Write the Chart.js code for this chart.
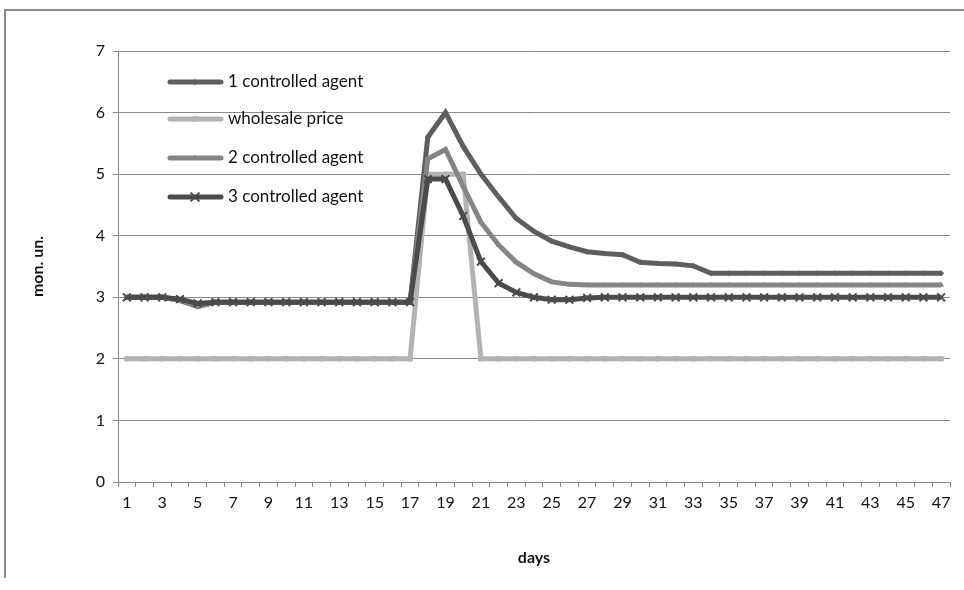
<!DOCTYPE html>
<html>
<head>
<meta charset="utf-8">
<script src="https://cdn.jsdelivr.net/npm/chart.js@4/dist/chart.umd.min.js"></script>
<style>
  html, body { margin: 0; padding: 0; background: #fff; }
  #wrap { position: relative; width: 964px; height: 590px; overflow: hidden; }
  #frame { position: absolute; left: 4px; top: 9px; width: 1000px; height: 569px;
           border-top: 2px solid #8a8a8a; border-left: 2px solid #8a8a8a; box-sizing: border-box; }
  canvas { position: absolute; left: 0; top: 0; }
</style>
</head>
<body>
<div id="wrap">
  <div id="frame"></div>
  <canvas id="chart" width="964" height="590"></canvas>
</div>
<script>
// Days on the category axis
const days = ['1','2','3','4','5','6','7','8','9','10','11','12','13','14','15','16',
  '17','18','19','20','21','22','23','24','25','26','27','28','29','30','31','32',
  '33','34','35','36','37','38','39','40','41','42','43','44','45','46','47'];

// Values (mon. un.)
const agent1 = [3.0, 3.0, 3.0, 2.95, 2.85, 2.92, 2.92, 2.92, 2.92, 2.92, 2.92, 2.92,
  2.92, 2.92, 2.92, 2.92, 2.92, 5.6, 6.0, 5.45, 5.0, 4.63, 4.28, 4.07, 3.91, 3.82,
  3.74, 3.71, 3.69, 3.57, 3.55, 3.54, 3.51, 3.39, 3.39, 3.39, 3.39, 3.39, 3.39,
  3.39, 3.39, 3.39, 3.39, 3.39, 3.39, 3.39, 3.39];
const wholesale = [2, 2, 2, 2, 2, 2, 2, 2, 2, 2, 2, 2, 2, 2, 2, 2, 2, 5.0, 5.0, 5.0,
  2, 2, 2, 2, 2, 2, 2, 2, 2, 2, 2, 2, 2, 2, 2, 2, 2, 2, 2, 2, 2, 2, 2, 2, 2, 2, 2];
const agent2 = [3.0, 3.0, 3.0, 2.95, 2.85, 2.92, 2.92, 2.92, 2.92, 2.92, 2.92, 2.92,
  2.92, 2.92, 2.92, 2.92, 2.92, 5.25, 5.4, 4.8, 4.22, 3.85, 3.57, 3.38, 3.25, 3.21,
  3.2, 3.2, 3.2, 3.2, 3.2, 3.2, 3.2, 3.2, 3.2, 3.2, 3.2, 3.2, 3.2, 3.2, 3.2, 3.2,
  3.2, 3.2, 3.2, 3.2, 3.2];
const agent3 = [3.0, 3.0, 3.0, 2.97, 2.9, 2.92, 2.92, 2.92, 2.92, 2.92, 2.92, 2.92,
  2.92, 2.92, 2.92, 2.92, 2.92, 4.92, 4.92, 4.32, 3.58, 3.23, 3.08, 3.0, 2.96, 2.96,
  2.99, 3.0, 3.0, 3.0, 3.0, 3.0, 3.0, 3.0, 3.0, 3.0, 3.0, 3.0, 3.0, 3.0, 3.0, 3.0,
  3.0, 3.0, 3.0, 3.0, 3.0];

const yTicks = [0, 1, 2, 3, 4, 5, 6, 7];

const FONT = 'Lato, "Open Sans", sans-serif';
const GRID = '#888888';

// Legend drawn inside the plot, like the Excel original
const insideLegend = {
  id: 'insideLegend',
  afterDraw(chart) {
    const ctx = chart.ctx;
    const rows = [82, 119, 158, 197];
    ctx.save();
    chart.data.datasets.forEach((ds, i) => {
      const y = rows[i];
      ctx.strokeStyle = ds.borderColor;
      ctx.lineWidth = ds.borderWidth;
      ctx.lineCap = 'round';
      ctx.beginPath();
      ctx.moveTo(170, y);
      ctx.lineTo(221, y);
      ctx.stroke();
      ctx.fillStyle = ds.pointBackgroundColor;
      ctx.strokeStyle = ds.pointBorderColor;
      ctx.lineWidth = ds.pointBorderWidth;
      Chart.helpers.drawPoint(ctx, {
        pointStyle: ds.pointStyle, radius: ds.pointRadius,
        borderWidth: ds.pointBorderWidth, rotation: 0
      }, 195, y);
      ctx.fillStyle = '#111';
      ctx.font = '17px ' + FONT;
      ctx.textBaseline = 'middle';
      ctx.textAlign = 'left';
      ctx.fillText(ds.label, 228, y);
    });
    ctx.restore();
  }
};

function series(label, data, color, style, radius, order, pbw) {
  return {
    label: label,
    data: data,
    borderColor: color,
    backgroundColor: color,
    borderWidth: 5,
    tension: 0,
    pointStyle: style,
    pointRadius: radius,
    pointBackgroundColor: color,
    pointBorderColor: color,
    pointBorderWidth: pbw,
    pointHoverRadius: radius,
    order: order
  };
}

new Chart(document.getElementById('chart'), {
  type: 'line',
  data: {
    labels: days,
    datasets: [
      series('1 controlled agent', agent1, '#5e5e5e', 'rectRot', 2.5, 4, 1),
      series('wholesale price', wholesale, '#b3b3b3', 'rect', 3, 3, 1),
      series('2 controlled agent', agent2, '#858585', 'triangle', 2.5, 2, 1),
      series('3 controlled agent', agent3, '#4b4b4b', 'crossRot', 5.5, 1, 2)
    ]
  },
  options: {
    responsive: false,
    animation: false,
    layout: { padding: { left: 20, right: 14, top: 51, bottom: 20 } },
    plugins: { legend: { display: false }, tooltip: { enabled: false } },
    scales: {
      x: {
        type: 'category',
        offset: true,
        grid: { display: true, offset: true, drawOnChartArea: false, drawTicks: true,
                tickLength: 5, color: GRID },
        border: { display: true, color: GRID, width: 1 },
        ticks: {
          autoSkip: false, maxRotation: 0, minRotation: 0, padding: 6,
          color: '#111', font: { family: FONT, size: 16 },
          callback: function (v, i) { return i % 2 === 0 ? this.getLabelForValue(v) : ''; }
        },
        title: { display: true, text: 'days', color: '#111',
                 font: { family: FONT, size: 16, weight: 'bold' },
                 padding: { top: 0, bottom: 3 } },
        afterFit(scale) { scale.height = 88; }
      },
      y: {
        min: 0, max: 7,
        afterBuildTicks(scale) { scale.ticks = yTicks.map(v => ({ value: v })); },
        grid: { color: GRID, lineWidth: 1, tickLength: 5 },
        border: { display: true, color: GRID, width: 1 },
        ticks: { padding: 8, color: '#111', font: { family: FONT, size: 16 } },
        title: { display: true, text: 'mon. un.', color: '#111',
                 font: { family: FONT, size: 16, weight: 'bold' },
                 padding: { top: 8, bottom: 0 } },
        afterFit(scale) { scale.width = 98; }
      }
    }
  },
  plugins: [insideLegend]
});
</script>
</body>
</html>
